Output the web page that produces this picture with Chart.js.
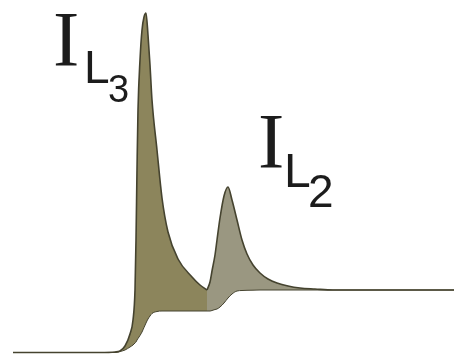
<!DOCTYPE html>
<html>
<head>
<meta charset="utf-8">
<script src="https://cdn.jsdelivr.net/npm/chart.js@4.4.0/dist/chart.umd.min.js"></script>
<style>
  html, body { margin: 0; padding: 0; background: #fff; }
  #wrap { width: 454px; height: 354px; position: relative; }
</style>
</head>
<body>
<div id="wrap"><canvas id="edgeChart" width="454" height="354"></canvas></div>
<script>
// energy loss axis (arbitrary units)
const energy = [13, 60, 100, 115, 120, 125, 130, 133, 135, 136, 137, 138, 140, 142, 144, 146, 148, 150, 152, 157, 162, 168, 178, 192, 200, 207,
  210, 212, 215, 217, 220, 224, 228, 232, 237, 242, 247, 253, 260, 268, 277, 288, 300, 315, 333, 360, 400, 454];
// measured intensity
const spectrum = [1.5, 1.5, 1.5, 2, 3, 8, 20, 34, 64, 114, 184, 244, 294, 324, 337, 341, 319, 289, 254, 204, 156, 122, 95, 77, 69, 64,
  72, 83, 99, 114, 136, 158, 167, 154, 134, 114, 100, 89, 81, 75, 71, 68, 66, 65, 64, 64, 64, 64];
// two-step continuum under the white lines
const stepBg = [1.5, 1.5, 1.5, 1.5, 2.5, 4, 7, 9, 11, 12, 14, 15.5, 18.5, 22, 26.5, 31, 35, 38, 40.5, 42.5, 43, 43, 43, 43, 43, 43,
  43, 43.5, 44.5, 45, 47, 51, 56, 60, 63, 63.5, 63.7, 63.8, 64, 64, 64, 64, 64, 64, 64, 64, 64, 64];
const splitAt = 207; // boundary between L3 and L2 integration windows

const pts = arr => energy.map((e, i) => ({x: e, y: arr[i]}));
const iSplit = energy.indexOf(splitAt);
const l3 = energy.map((e, i) => ({x: e, y: e <= splitAt ? spectrum[i] : null}));
const l2 = energy.map((e, i) => ({x: e, y: e >= splitAt ? spectrum[i] : null}));

const lineCol = '#45432f';

// I_L3 / I_L2 labels
const labels = {
  id: 'edgeLabels',
  afterDatasetsDraw(chart) {
    const ctx = chart.ctx;
    ctx.save();
    ctx.fillStyle = '#1c1c1c';
    ctx.textBaseline = 'alphabetic';
    const put = (txt, font, x, y) => { ctx.font = font; ctx.fillText(txt, x, y); };
    put('I', '79px "Liberation Serif"', 53, 65);
    put('L', '46px "Liberation Sans"', 84, 83);
    put('3', '38px "Liberation Sans"', 108, 102);
    put('I', '79px "Liberation Serif"', 258, 167);
    put('L', '48px "Liberation Sans"', 284, 187);
    put('2', '46px "Liberation Sans"', 308, 207);
    ctx.restore();
  }
};

new Chart('edgeChart', {
  type: 'line',
  data: {
    datasets: [
      {
        data: pts(stepBg),
        borderColor: lineCol,
        borderWidth: 1,
        fill: false
      },
      {
        data: l3,
        borderColor: lineCol,
        borderWidth: 1.6,
        backgroundColor: '#8c855c',
        fill: {target: 0}
      },
      {
        data: l2,
        borderColor: lineCol,
        borderWidth: 1.6,
        backgroundColor: '#9a9781',
        fill: {target: 0}
      },
      {
        data: [{x: splitAt, y: stepBg[iSplit]}, {x: splitAt, y: spectrum[iSplit]}],
        borderColor: '#2e2d1e',
        borderWidth: 1.5,
        fill: false,
        cubicInterpolationMode: 'default',
        tension: 0
      }
    ]
  },
  options: {
    responsive: false,
    animation: false,
    elements: {point: {radius: 0}, line: {cubicInterpolationMode: 'monotone'}},
    layout: {padding: 0},
    plugins: {legend: {display: false}, tooltip: {enabled: false}},
    scales: {
      x: {type: 'linear', min: 0, max: 454, display: false},
      y: {min: 0, max: 354, display: false}
    }
  },
  plugins: [labels]
});
</script>
</body>
</html>
